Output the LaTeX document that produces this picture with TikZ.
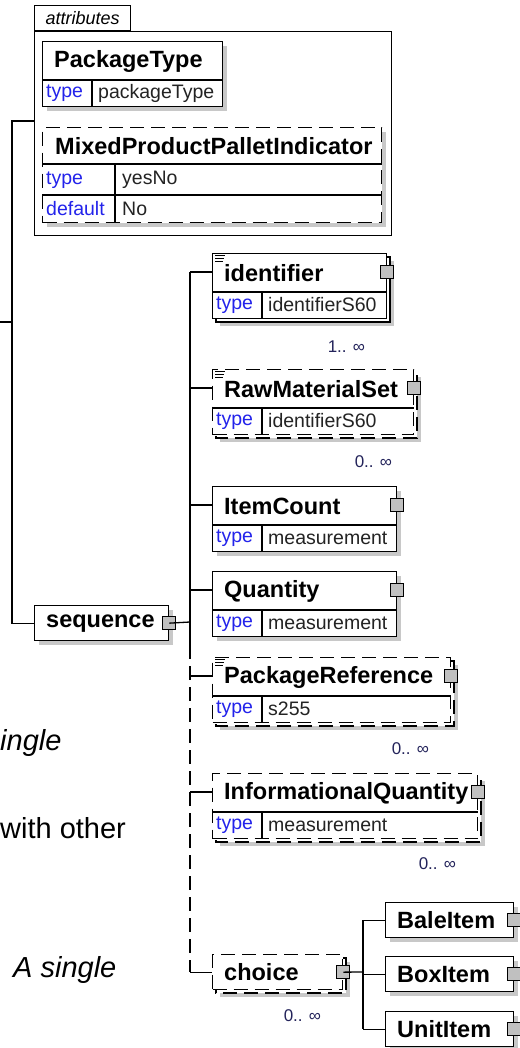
\documentclass[tikz,border=0pt]{standalone}
\usepackage{fontspec}
\setmainfont{Liberation Sans}

\definecolor{shadowgray}{RGB}{200,200,200}
\definecolor{conngray}{RGB}{192,192,192}
\definecolor{kwblue}{RGB}{35,35,235}
\definecolor{valdark}{RGB}{35,35,35}
\definecolor{multnavy}{RGB}{35,35,90}

\newcommand{\titlefont}{\fontsize{23.5}{26}\selectfont\bfseries}
\newcommand{\cellfont}{\fontsize{19.5}{22}\selectfont}
\newcommand{\multfont}{\fontsize{17}{19}\selectfont}
\newcommand{\tabfont}{\fontsize{18}{20}\selectfont\itshape}
\newcommand{\sidefont}{\fontsize{29}{32}\selectfont}

% element with a title row and one type row
% #1 name, #2 x, #3 y, #4 width, #5 outline, #6 repeated (0/1), #7 title, #8 type
\newcommand{\xsdelem}[8]{%
  \ifnum#6=1\relax
    \fill[shadowgray] (#2+8,#3+8) rectangle ++(#4,65);
    \draw[boxline,#5,fill=white] (#2+4,#3+4) rectangle ++(#4,65);
  \else
    \fill[shadowgray] (#2+5,#3+5) rectangle ++(#4,65);
  \fi
  \node[elembox,#5,minimum width=#4pt] (#1) at (#2,#3) {};
  \draw[boxline] ([yshift=-39pt]#1.north west) -- ([yshift=-39pt]#1.north east);
  \draw[boxline] ([shift={(50pt,-39pt)}]#1.north west) -- ([xshift=50pt]#1.south west);
  \node[titletext] (#1-title) at ([shift={(12pt,-20pt)}]#1.north west) {#7};
  \node[kwtext] (#1-kw) at ([shift={(4pt,-52pt)}]#1.north west) {type};
  \node[valtext] (#1-type) at ([shift={(56pt,-52pt)}]#1.north west) {#8};
  \coordinate (#1-in) at ([yshift=-19pt]#1.north west);
}

% box with a title only
% #1 name, #2 x, #3 y, #4 width, #5 outline, #6 repeated (0/1), #7 title
\newcommand{\xsdplain}[7]{%
  \ifnum#6=1\relax
    \fill[shadowgray] (#2+8,#3+8) rectangle ++(#4,35);
    \draw[boxline,#5,fill=white] (#2+4,#3+4) rectangle ++(#4,35);
  \else
    \fill[shadowgray] (#2+5,#3+5) rectangle ++(#4,35);
  \fi
  \node[elembox,#5,minimum width=#4pt,minimum height=35pt] (#1) at (#2,#3) {};
  \node[titletext] (#1-title) at ([xshift=12pt]#1.west) {#7};
}

% little documentation mark in the corner
\newcommand{\docicon}[1]{%
  \foreach \k/\len in {0/10,1/9,2/8}
    \draw[line width=0.9pt] ([shift={(3pt,-2pt-3pt*\k)}]#1.north west) -- ++(\len,0);
}

\begin{document}
\begin{tikzpicture}[x=1pt, y=-1pt, line join=miter]
  \tikzset{
    boxline/.style={line width=1.3pt, draw=black},
    solidline/.style={solid},
    optline/.style={dash pattern=on 14pt off 7pt},
    elembox/.style={boxline, fill=white, anchor=north west, inner sep=0pt, minimum height=65pt},
    titletext/.style={font=\titlefont, anchor=west, inner sep=0pt},
    kwtext/.style={font=\cellfont, text=kwblue, anchor=west, inner sep=0pt},
    valtext/.style={font=\cellfont, text=valdark, anchor=west, inner sep=0pt},
    multtext/.style={font=\multfont, text=multnavy, anchor=east, inner sep=0pt},
    connsq/.style={draw=black, line width=1.1pt, fill=conngray, minimum size=13pt, inner sep=0pt},
    link/.style={line width=1.3pt, draw=black},
    sidetext/.style={font=\sidefont, anchor=base west, inner sep=0pt}
  }
  \useasboundingbox (0,0) rectangle (519,1048);

  % attributes
  \node[boxline, anchor=north west, minimum width=357pt, minimum height=204pt, inner sep=0pt] (attrs) at (34,31) {};
  \node[boxline, anchor=south west, minimum width=96pt, minimum height=25pt, inner sep=0pt, font=\tabfont] (attrs-tab) at (attrs.north west) {attributes};

  \xsdelem{packagetype}{42}{41}{180}{solidline}{0}{PackageType}{packageType}

  \fill[shadowgray] (47,132) rectangle ++(339,95);
  \node[elembox, optline, minimum width=339pt, minimum height=95pt] (mppi) at (42,127) {};
  \draw[boxline] ([yshift=-37pt]mppi.north west) -- ([yshift=-37pt]mppi.north east);
  \draw[boxline] ([yshift=-68pt]mppi.north west) -- ([yshift=-68pt]mppi.north east);
  \draw[boxline] ([shift={(73pt,-37pt)}]mppi.north west) -- ([xshift=73pt]mppi.south west);
  \node[titletext] (mppi-title) at ([shift={(13pt,-19pt)}]mppi.north west) {MixedProductPalletIndicator};
  \node[kwtext] (mppi-kw1) at ([shift={(4pt,-53pt)}]mppi.north west) {type};
  \node[valtext] (mppi-val1) at ([shift={(80pt,-53pt)}]mppi.north west) {yesNo};
  \node[kwtext] (mppi-kw2) at ([shift={(4pt,-82pt)}]mppi.north west) {default};
  \node[valtext] (mppi-val2) at ([shift={(80pt,-82pt)}]mppi.north west) {No};

  % sequence
  \xsdplain{seq}{34}{605}{134}{solidline}{0}{sequence}
  \node[connsq] (seq-c) at (seq.east) {};

  \xsdelem{identifier}{212}{253}{174}{solidline}{1}{identifier}{identifierS60}
  \xsdelem{rawmaterialset}{212}{369}{201}{optline}{1}{RawMaterialSet}{identifierS60}
  \xsdelem{itemcount}{212}{486}{184}{solidline}{0}{ItemCount}{measurement}
  \xsdelem{quantity}{212}{571}{184}{solidline}{0}{Quantity}{measurement}
  \xsdelem{packagereference}{212}{657}{238}{optline}{1}{PackageReference}{s255}
  \xsdelem{informationalquantity}{212}{773}{265}{optline}{1}{InformationalQuantity}{measurement}
  \docicon{identifier}
  \docicon{rawmaterialset}
  \docicon{packagereference}
  \foreach \n in {identifier, rawmaterialset, itemcount, quantity, packagereference, informationalquantity}
    \node[connsq] (\n-c) at ([yshift=-19pt]\n.north east) {};

  \node[multtext] (identifier-m) at ([shift={(-22pt,-27pt)}]identifier.south east) {1.. ∞};
  \node[multtext] (rawmaterialset-m) at ([shift={(-22pt,-26pt)}]rawmaterialset.south east) {0.. ∞};
  \node[multtext] (packagereference-m) at ([shift={(-22pt,-25pt)}]packagereference.south east) {0.. ∞};
  \node[multtext] (informationalquantity-m) at ([shift={(-22pt,-24pt)}]informationalquantity.south east) {0.. ∞};

  % choice
  \xsdplain{choice}{212}{954}{130}{optline}{1}{choice}
  \node[connsq] (choice-c) at (choice.east) {};
  \node[multtext] (choice-m) at ([shift={(-22pt,-25pt)}]choice.south east) {0.. ∞};

  \xsdplain{baleitem}{385}{902}{128}{solidline}{0}{BaleItem}
  \xsdplain{boxitem}{385}{956}{128}{solidline}{0}{BoxItem}
  \xsdplain{unititem}{385}{1011}{128}{solidline}{0}{UnitItem}
  \foreach \n in {baleitem, boxitem, unititem}
    \node[connsq] (\n-c) at (\n.east) {};

  % connectors
  \coordinate (entry) at (0,322);
  \coordinate (root) at (12,322);
  \draw[link] (entry) -- (root);
  \draw[link] ([yshift=-90pt]attrs.north west) -| (root) |- (seq.west);

  \coordinate (seqtrunk) at (190,622);
  \coordinate (trunkbreak) at (190,645);
  \draw[link] (seq-c.center) -- (seqtrunk);
  \draw[link] (seqtrunk |- identifier-in) -- (trunkbreak);
  \draw[link, optline] (trunkbreak) -- (seqtrunk |- choice.west);
  \draw[link] (seqtrunk |- choice.west) -- (choice.west);
  \foreach \n in {identifier, rawmaterialset, itemcount, quantity, packagereference, informationalquantity}
    \draw[link] (seqtrunk |- \n-in) -- (\n-in);

  \coordinate (choicetrunk) at (363,972);
  \draw[link] (choice-c.center) -- (choicetrunk);
  \draw[link] (choicetrunk |- baleitem.west) -- (choicetrunk |- unititem.west);
  \foreach \n in {baleitem, boxitem, unititem}
    \draw[link] (choicetrunk |- \n.west) -- (\n.west);

  % cut-off text at the left
  \node[sidetext, font=\sidefont\itshape] (frag-a) at (0,750) {ingle};
  \node[sidetext] (frag-b) at (0,838) {with other};
  \node[sidetext, font=\sidefont\itshape] (frag-c) at (13,977) {A single};
\end{tikzpicture}
\end{document}
